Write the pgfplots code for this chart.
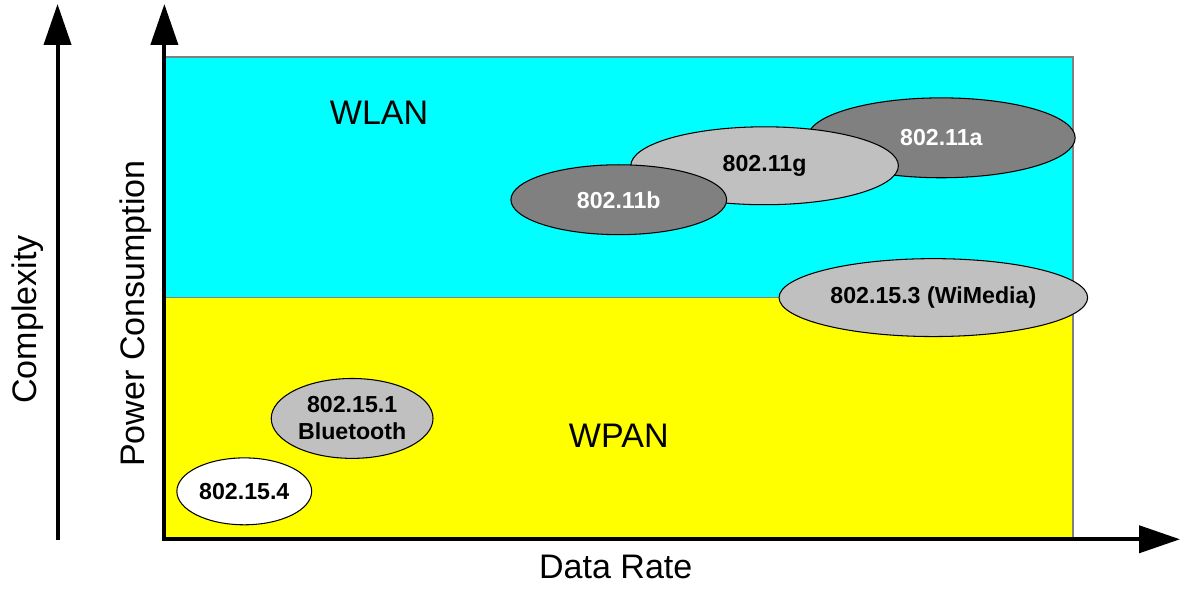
\documentclass[border=0pt]{standalone}
\usepackage{pgfplots}
\pgfplotsset{compat=1.18}
\usepackage{fontspec}
\setmainfont{Liberation Sans}
\usetikzlibrary{arrows.meta,shapes.geometric}
\definecolor{wlan}{RGB}{0,255,255}
\definecolor{wpan}{RGB}{255,255,0}
\definecolor{dgray}{RGB}{128,128,128}
\definecolor{lgray}{RGB}{192,192,192}
\newcommand{\bigfont}{\fontsize{9.7pt}{11pt}\selectfont}
\newcommand{\labfont}{\fontsize{6.6pt}{7.7pt}\selectfont\bfseries}
\tikzset{
  ell/.style={ellipse, draw=black, line width=0.3pt, inner sep=0pt, anchor=center, align=center, font=\labfont},
  bigarrow/.style={line width=0.04cm, line join=miter, draw=black},
}
\newcommand{\tip}{Triangle[length=0.41cm,width=0.27cm]}
\begin{document}
\begin{tikzpicture}
\begin{axis}[
  scale only axis, width=11.83cm, height=5.85cm,
  xmin=0, xmax=1183, ymin=0, ymax=585, y dir=reverse,
  hide axis, clip=false,
]
% bounding box
\addplot[draw=none, mark=none] coordinates {(0,0) (1183,585)};
% regions
\addplot[fill=wlan, draw=dgray, line width=0.4pt, mark=none] coordinates {(163,57) (1073,57) (1073,298) (163,298)} -- cycle;
\addplot[fill=wpan, draw=dgray, line width=0.4pt, mark=none] coordinates {(163,298) (1073,298) (1073,540) (163,540)} -- cycle;
% axes arrows
\addplot[bigarrow, mark=none, {\tip}-{\tip}] coordinates {(163,4) (163,540) (1180,540)};
\addplot[bigarrow, mark=none, -{\tip}] coordinates {(56,541) (56,4)};
% ellipses
\addplot[only marks, mark=*, mark size=0pt, nodes near coords={802.11a},
  every node near coord/.append style={ell, fill=dgray, text=white, minimum width=2.68cm, minimum height=0.80cm}] coordinates {(941,138)};
\addplot[only marks, mark=*, mark size=0pt, nodes near coords={802.11g},
  every node near coord/.append style={ell, fill=lgray, text=black, minimum width=2.68cm, minimum height=0.78cm}] coordinates {(764,166)};
\addplot[only marks, mark=*, mark size=0pt, nodes near coords={802.11b},
  every node near coord/.append style={ell, fill=dgray, text=white, minimum width=2.16cm, minimum height=0.70cm}] coordinates {(618,200)};
\addplot[only marks, mark=*, mark size=0pt, nodes near coords={802.15.3 (WiMedia)},
  every node near coord/.append style={ell, fill=lgray, text=black, minimum width=3.09cm, minimum height=0.78cm}] coordinates {(933,298)};
\addplot[only marks, mark=*, mark size=0pt, nodes near coords={802.15.1\\Bluetooth},
  every node near coord/.append style={ell, fill=lgray, text=black, minimum width=1.62cm, minimum height=0.80cm}] coordinates {(351,419)};
\addplot[only marks, mark=*, mark size=0pt, nodes near coords={802.15.4},
  every node near coord/.append style={ell, fill=white, text=black, minimum width=1.35cm, minimum height=0.67cm}] coordinates {(243,492)};
% texts
\node[font=\bigfont] at (axis cs:378,113) {WLAN};
\node[font=\bigfont] at (axis cs:618,436) {WPAN};
\node[font=\bigfont] at (axis cs:615,568) {Data Rate};
\node[font=\bigfont, rotate=90] at (axis cs:134,314) {Power Consumption};
\node[font=\bigfont, rotate=90] at (axis cs:26,320) {Complexity};
\end{axis}
\end{tikzpicture}
\end{document}
